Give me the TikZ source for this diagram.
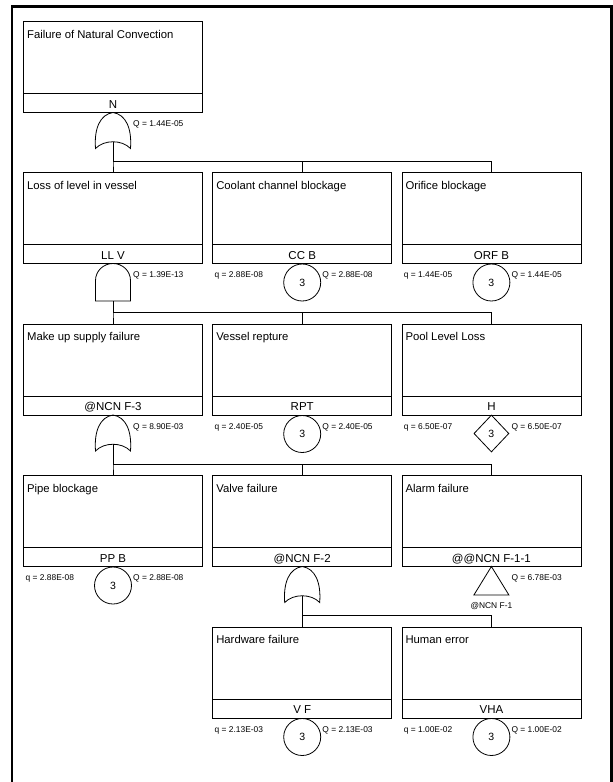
\documentclass[tikz,border=0pt]{standalone}
\usepackage{fontspec}
\setmainfont{Liberation Sans}
\usetikzlibrary{shapes.geometric}

\begin{document}
\begin{tikzpicture}[x=1pt, y=-1pt,
  ln/.style={line width=0.8pt},
  evbox/.style={draw, ln, minimum width=179pt, minimum height=91pt, inner sep=0pt, outer sep=0pt},
  evtitle/.style={anchor=base west, inner sep=0pt, font=\fontsize{11.3}{13}\selectfont},
  evcode/.style={anchor=base, inner sep=0pt, font=\fontsize{11.5}{13}\selectfont},
  prob/.style={anchor=west, inner sep=0pt, font=\fontsize{8.4}{10}\selectfont},
  basic/.style={circle, draw, ln, minimum size=37pt, inner sep=0pt, font=\fontsize{10.5}{12}\selectfont},
  undev/.style={diamond, draw, ln, minimum width=35pt, minimum height=37pt, inner sep=0pt, font=\fontsize{10.5}{12}\selectfont},
  orgate/.pic={
    \draw[ln] (0,0) .. controls (-13,2) and (-19,16) .. (-17.5,36)
      .. controls (-9,27) and (9,27) .. (17.5,36)
      .. controls (19,16) and (13,2) .. cycle;
    \coordinate (-out) at (0,29.3);},
  andgate/.pic={
    \draw[ln] (-17.5,37.5) -- (-17.5,17) .. controls (-17.5,7.6) and (-9.7,0) .. (0,0)
      .. controls (9.7,0) and (17.5,7.6) .. (17.5,17) -- (17.5,37.5) -- cycle;
    \coordinate (-out) at (0,37.5);},
  xfer/.pic={
    \draw[ln] (0,0) -- (17.5,28.5) -- (-17.5,28.5) -- cycle;}]

\useasboundingbox (0,0) rectangle (613,782);
\draw[line width=2.4pt] (12,782) -- (12,6.5) -- (611.5,6.5) -- (611.5,782);

% Event boxes
\node[evbox] (nc) at (113,67) {};
\node[evtitle] (nc-t) at ([xshift=3.4pt,yshift=-16.7pt]nc.north west) {Failure of Natural Convection};
\node[evcode] (nc-c) at ([yshift=4.5pt]nc.south) {N};

\node[evbox] (llv) at (113,218) {};
\node[evtitle] (llv-t) at ([xshift=3.4pt,yshift=-16.7pt]llv.north west) {Loss of level in vessel};
\node[evcode] (llv-c) at ([yshift=4.5pt]llv.south) {LL V};

\node[evbox] (ccb) at (302.2,218) {};
\node[evtitle] (ccb-t) at ([xshift=3.4pt,yshift=-16.7pt]ccb.north west) {Coolant channel blockage};
\node[evcode] (ccb-c) at ([yshift=4.5pt]ccb.south) {CC B};

\node[evbox] (orfb) at (491.4,218) {};
\node[evtitle] (orfb-t) at ([xshift=3.4pt,yshift=-16.7pt]orfb.north west) {Orifice blockage};
\node[evcode] (orfb-c) at ([yshift=4.5pt]orfb.south) {ORF B};

\node[evbox] (musf) at (113,369.5) {};
\node[evtitle] (musf-t) at ([xshift=3.4pt,yshift=-16.7pt]musf.north west) {Make up supply failure};
\node[evcode] (musf-c) at ([yshift=4.5pt]musf.south) {@NCN F-3};

\node[evbox] (rpt) at (302.2,369.5) {};
\node[evtitle] (rpt-t) at ([xshift=3.4pt,yshift=-16.7pt]rpt.north west) {Vessel repture};
\node[evcode] (rpt-c) at ([yshift=4.5pt]rpt.south) {RPT};

\node[evbox] (pll) at (491.4,369.5) {};
\node[evtitle] (pll-t) at ([xshift=3.4pt,yshift=-16.7pt]pll.north west) {Pool Level Loss};
\node[evcode] (pll-c) at ([yshift=4.5pt]pll.south) {H};

\node[evbox] (ppb) at (113,521) {};
\node[evtitle] (ppb-t) at ([xshift=3.4pt,yshift=-16.7pt]ppb.north west) {Pipe blockage};
\node[evcode] (ppb-c) at ([yshift=4.5pt]ppb.south) {PP B};

\node[evbox] (vlv) at (302.2,521) {};
\node[evtitle] (vlv-t) at ([xshift=3.4pt,yshift=-16.7pt]vlv.north west) {Valve failure};
\node[evcode] (vlv-c) at ([yshift=4.5pt]vlv.south) {@NCN F-2};

\node[evbox] (alarm) at (491.4,521) {};
\node[evtitle] (alarm-t) at ([xshift=3.4pt,yshift=-16.7pt]alarm.north west) {Alarm failure};
\node[evcode] (alarm-c) at ([yshift=4.5pt]alarm.south) {@@NCN F-1-1};

\node[evbox] (hwf) at (302.2,672.5) {};
\node[evtitle] (hwf-t) at ([xshift=3.4pt,yshift=-16.7pt]hwf.north west) {Hardware failure};
\node[evcode] (hwf-c) at ([yshift=4.5pt]hwf.south) {V F};

\node[evbox] (hum) at (491.4,672.5) {};
\node[evtitle] (hum-t) at ([xshift=3.4pt,yshift=-16.7pt]hum.north west) {Human error};
\node[evcode] (hum-c) at ([yshift=4.5pt]hum.south) {VHA};

\foreach \n in {nc,llv,ccb,orfb,musf,rpt,pll,ppb,vlv,alarm,hwf,hum}
  \draw[ln] ([yshift=19pt]\n.south west) -- ([yshift=19pt]\n.south east);

% Gates
\pic (g1) at (nc.south) {orgate};
\pic (g2) at (llv.south) {andgate};
\pic (g3) at (musf.south) {orgate};
\pic (g4) at (vlv.south) {orgate};
\pic (tr) at (alarm.south) {xfer};

\node[prob] (g1-q) at (133,124.5) {Q = 1.44E-05};
\node[prob] (g2-q) at (133,275.5) {Q = 1.39E-13};
\node[prob] (g3-q) at (133,427) {Q = 8.90E-03};
\node[prob] (g4-q) at (511.4,578.5) {Q = 6.78E-03};
\node[prob, anchor=center] (tr-l) at (491.4,606) {@NCN F-1};

% Basic events
\node[basic] (ccb-e) at (302.2,282.5) {3};
\node[prob] (ccb-q) at (214.5,275.5) {q = 2.88E-08};
\node[prob] (ccb-Q) at (322.2,275.5) {Q = 2.88E-08};

\node[basic] (orfb-e) at (491.4,282.5) {3};
\node[prob] (orfb-q) at (403.7,275.5) {q = 1.44E-05};
\node[prob] (orfb-Q) at (511.4,275.5) {Q = 1.44E-05};

\node[basic] (rpt-e) at (302.2,434) {3};
\node[prob] (rpt-q) at (214.5,427) {q = 2.40E-05};
\node[prob] (rpt-Q) at (322.2,427) {Q = 2.40E-05};

\node[undev] (pll-e) at (491.4,433.5) {3};
\node[prob] (pll-q) at (403.7,427) {q = 6.50E-07};
\node[prob] (pll-Q) at (511.4,427) {Q = 6.50E-07};

\node[basic] (ppb-e) at (113,585.5) {3};
\node[prob] (ppb-q) at (25.5,578.5) {q = 2.88E-08};
\node[prob] (ppb-Q) at (133,578.5) {Q = 2.88E-08};

\node[basic] (hwf-e) at (302.2,737) {3};
\node[prob] (hwf-q) at (214.5,730) {q = 2.13E-03};
\node[prob] (hwf-Q) at (322.2,730) {Q = 2.13E-03};

\node[basic] (hum-e) at (491.4,737) {3};
\node[prob] (hum-q) at (403.7,730) {q = 1.00E-02};
\node[prob] (hum-Q) at (511.4,730) {Q = 1.00E-02};

% Connectors
\foreach \c in {llv,ccb,orfb}
  \draw[ln] (g1-out) |- ([yshift=11.5pt]\c.north) -- (\c.north);
\foreach \c in {musf,rpt,pll}
  \draw[ln] (g2-out) |- ([yshift=11.5pt]\c.north) -- (\c.north);
\foreach \c in {ppb,vlv,alarm}
  \draw[ln] (g3-out) |- ([yshift=11.5pt]\c.north) -- (\c.north);
\foreach \c in {hwf,hum}
  \draw[ln] (g4-out) |- ([yshift=11.5pt]\c.north) -- (\c.north);

\end{tikzpicture}
\end{document}
